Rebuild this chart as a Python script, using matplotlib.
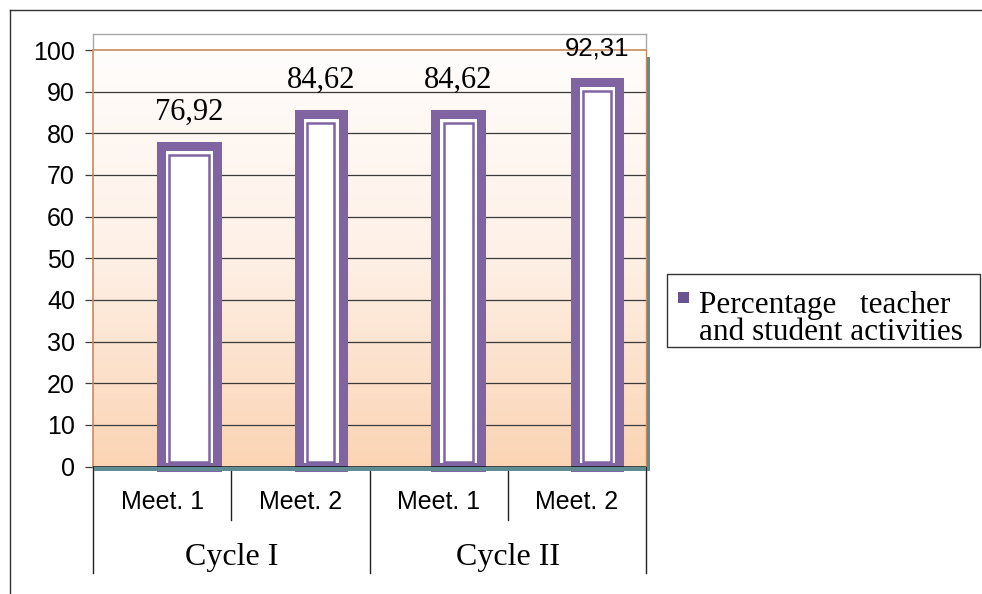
import numpy as np
import matplotlib
matplotlib.use("Agg")
import matplotlib.pyplot as plt
from matplotlib.patches import Rectangle
from matplotlib.lines import Line2D
from matplotlib.colors import LinearSegmentedColormap

# ---- data -------------------------------------------------------------
meetings = ["Meet. 1", "Meet. 2", "Meet. 1", "Meet. 2"]
cycles = ["Cycle I", "Cycle II"]
values = [76.92, 84.62, 84.62, 92.31]
value_labels = ["76,92", "84,62", "84,62", "92,31"]
series_name = "Percentage   teacher\nand student activities"
y_ticks = [0, 10, 20, 30, 40, 50, 60, 70, 80, 90, 100]

# ---- style ------------------------------------------------------------
W, H = 982, 594
PURPLE = "#8064A2"
SPINE = "#C98A5C"
GRID = "#3A3A3A"
FLOOR = "#5F8C93"
SERIF = "Liberation Serif"
SANS = "Liberation Sans"
bar_offsets = [0.195, 0.148, 0.142, 0.145]
bar_widths = [0.41, 0.32, 0.33, 0.32]
label_fonts = [SERIF, SERIF, SERIF, SANS]
label_sizes = [22, 22, 22, 18.5]

fig = plt.figure(figsize=(W / 100, H / 100), dpi=100)


def fx(px):
    return px / W


def fy(py):
    return 1 - py / H


# plot area in pixels
L, R, T, B = 93, 646, 50, 466.5
ax = fig.add_axes([fx(L), fy(B), fx(R) - fx(L), fy(T) - fy(B)])
ax.set_xlim(-0.5, 3.5)
ax.set_ylim(0, 100)

# gradient wall
cmap = LinearSegmentedColormap.from_list("wall", ["#FBD4B4", "#FEF0E6", "#FFFDFC"])
grad = np.linspace(0, 1, 256).reshape(-1, 1)
ax.imshow(grad, extent=[-0.5, 3.5, 0, 100], origin="lower", aspect="auto",
          cmap=cmap, zorder=0)

# gridlines
for t in y_ticks[1:-1]:
    ax.axhline(t, color=GRID, lw=0.9, zorder=1)
ax.axhline(0, color="#111111", lw=1.1, zorder=4)

for s in ["right", "bottom"]:
    ax.spines[s].set_visible(False)
ax.spines["left"].set_color(SPINE)
ax.spines["top"].set_color(SPINE)
ax.spines["left"].set_linewidth(1.2)
ax.spines["top"].set_linewidth(1.2)

ax.set_xticks([])
ax.set_yticks(y_ticks)
ax.set_yticklabels([str(t) for t in y_ticks], fontsize=18, family=SANS)
ax.tick_params(axis="y", length=6, width=0.9, color=GRID, pad=7)

# px per data unit
px_x = (R - L) / 4.0
px_y = (B - T) / 100.0

xs = [i + off for i, off in enumerate(bar_offsets)]
# bars: thick purple frame, white face, thin inner outline
ax.bar(xs, values, width=bar_widths, color="white", edgecolor=PURPLE,
       linewidth=6.5, zorder=3, clip_on=False)
ins_x = 8.5 / px_x
ins_top = 9.0 / px_y
ins_bot = 4.5 / px_y
inner_w = [w - 2 * ins_x for w in bar_widths]
inner_h = [v - ins_top - ins_bot for v in values]
ax.bar(xs, inner_h, bottom=ins_bot, width=inner_w, facecolor="none",
       edgecolor=PURPLE, linewidth=1.8, zorder=3.5)

# value labels
for x, v, lab, fam, fs in zip(xs, values, value_labels, label_fonts, label_sizes):
    ax.annotate(lab, (x, v), xytext=(0, 24), textcoords="offset points",
                ha="center", va="center", fontsize=fs, family=fam,
                color="black", zorder=6, annotation_clip=False)

# floor and side strip
fig.patches.append(Rectangle((fx(L + 1), fy(470.5)), fx(R) - fx(L + 1),
                             fy(467) - fy(470.5), transform=fig.transFigure,
                             facecolor=FLOOR, edgecolor="none", zorder=2))
fig.patches.append(Rectangle((fx(646.5), fy(470.5)), fx(3.5),
                             fy(57) - fy(470.5), transform=fig.transFigure,
                             facecolor=FLOOR, edgecolor="none", zorder=2))

# back-wall frame above the plot
grey = "#A8A8A8"
for xa, ya, xb, yb in [(L, 34, R, 34), (L, 34, L, 50), (R, 34, R, 50)]:
    fig.add_artist(Line2D([fx(xa), fx(xb)], [fy(ya), fy(yb)], color=grey,
                          lw=1.0, transform=fig.transFigure))
fig.add_artist(Line2D([fx(R), fx(R)], [fy(50), fy(466)], color=SPINE, lw=1.0,
                      transform=fig.transFigure))

# category axis table
axis_col = "#222222"
for i in range(4):
    xc = L + (i + 0.5) * px_x
    fig.text(fx(xc), fy(502), meetings[i], ha="center", va="center",
             fontsize=18, family=SANS)
for j, c in enumerate(cycles):
    xc = L + (2 * j + 1) * px_x
    fig.text(fx(xc), fy(558), c, ha="center", va="center",
             fontsize=23, family=SERIF)
for i in range(5):
    xp = L + i * px_x
    yend = 573 if i % 2 == 0 else 520
    fig.add_artist(Line2D([fx(xp), fx(xp)], [fy(467), fy(yend)], color=axis_col,
                          lw=1.0, transform=fig.transFigure))

# legend box
fig.patches.append(Rectangle((fx(667), fy(347)), fx(980) - fx(667),
                             fy(274) - fy(347), transform=fig.transFigure,
                             facecolor="white", edgecolor="#333333", lw=1.0))
fig.patches.append(Rectangle((fx(678), fy(303)), fx(11), fy(292) - fy(303),
                             transform=fig.transFigure, facecolor="#6A5290",
                             edgecolor="none"))
fig.text(fx(699), fy(340), series_name, ha="left", va="baseline",
         fontsize=22.5, family=SERIF, linespacing=0.92)

# outer chart border
fig.add_artist(Line2D([fx(9.5), fx(9.5)], [fy(10), fy(594)], color="#333333",
                      lw=1.0, transform=fig.transFigure))
fig.add_artist(Line2D([fx(9.5), fx(982)], [fy(10), fy(10)], color="#333333",
                      lw=1.0, transform=fig.transFigure))

fig.savefig("out.png", dpi=100)
